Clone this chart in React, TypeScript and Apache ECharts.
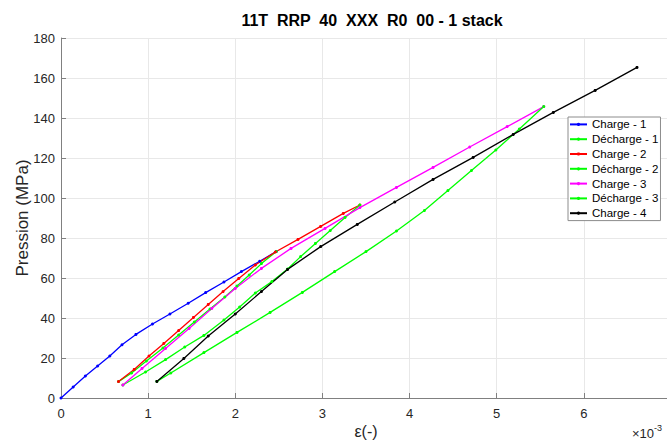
import React, { useEffect, useRef } from "react";
import * as echarts from "echarts";

const TITLE = "11T  RRP  40  XXX  R0  00 - 1 stack";
const X_NAME = "ε(-)";
const Y_NAME = "Pression (MPa)";

const seriesNames = ["Charge - 1", "Décharge - 1", "Charge - 2", "Décharge - 2", "Charge - 3", "Décharge - 3", "Charge - 4"];
const seriesColors = ["#0000ff", "#00ff00", "#ff0000", "#00ff00", "#ff00ff", "#00ff00", "#000000"];

// strain in units of 1e-3
const charge1X = [0, 0.14, 0.28, 0.42, 0.56, 0.70, 0.86, 1.05, 1.25, 1.46, 1.66, 1.87, 2.07, 2.28, 2.47];
const charge1Y = [0, 5.5, 11, 16, 21, 26.6, 31.8, 37, 42, 47.4, 52.7, 58, 63.2, 68.4, 73.2];

const decharge1X = [2.47, 2.30, 2.16, 2.02, 1.88, 1.71, 1.53, 1.35, 1.17, 0.98, 0.81, 0.66];
const decharge1Y = [73.2, 67.2, 61.5, 56, 50.5, 44.5, 38, 31.5, 25, 18.5, 12.5, 8.2];

const charge2X = [0.66, 0.84, 1.01, 1.18, 1.35, 1.52, 1.69, 1.86, 2.04, 2.23, 2.46, 2.72, 2.98, 3.24, 3.43];
const charge2Y = [8.2, 14.3, 21, 27.3, 33.7, 40.3, 46.8, 53.2, 59.8, 66.5, 73, 79.3, 85.8, 92.3, 96.5];

const decharge2X = [3.43, 3.26, 3.09, 2.92, 2.75, 2.60, 2.42, 2.23, 2.05, 1.87, 1.64, 1.42, 1.20, 0.97, 0.71];
const decharge2Y = [96.5, 90.3, 83.7, 77.3, 70.7, 64.5, 58.2, 52.5, 45.5, 39, 31.3, 25.5, 19.2, 13, 6.5];

const charge3X = [0.71, 0.93, 1.20, 1.47, 1.73, 2.00, 2.30, 2.64, 3.03, 3.43, 3.85, 4.27, 4.69, 5.12, 5.54];
const charge3Y = [6.5, 14.8, 24.8, 34.8, 44.8, 54.8, 64.8, 74.8, 84.8, 95.2, 105.3, 115.3, 125.5, 135.7, 145.7];

const decharge3X = [5.54, 5.26, 4.99, 4.71, 4.44, 4.17, 3.85, 3.50, 3.14, 2.77, 2.40, 2.02, 1.64, 1.26, 1.10];
const decharge3Y = [145.7, 134.5, 124, 113.7, 103.7, 93.7, 83.5, 73.2, 63.2, 52.8, 42.8, 32.8, 22.7, 12.5, 8.3];

const charge4X = [1.10, 1.41, 1.69, 2.00, 2.30, 2.60, 2.98, 3.40, 3.83, 4.27, 4.73, 5.19, 5.65, 6.13, 6.61];
const charge4Y = [8.3, 19.8, 31, 42, 53.2, 64.3, 75.7, 86.8, 98, 109.3, 120.3, 131.8, 142.8, 153.8, 165.3];

const allX = [charge1X, decharge1X, charge2X, decharge2X, charge3X, decharge3X, charge4X];
const allY = [charge1Y, decharge1Y, charge2Y, decharge2Y, charge3Y, decharge3Y, charge4Y];

const FONT = "'Liberation Sans', Arial, Helvetica, sans-serif";

export default function App() {
  const ref = useRef<HTMLDivElement>(null);
  useEffect(() => {
    if (!ref.current) return;
    const chart = echarts.init(ref.current, null, { renderer: "svg" });
    const series = seriesNames.map((name, i) => ({
      name,
      type: "line",
      data: allX[i].map((x, j) => [x, allY[i][j]]),
      symbol: "circle",
      symbolSize: 3,
      showSymbol: true,
      lineStyle: { color: seriesColors[i], width: 1.3 },
      itemStyle: { color: seriesColors[i] },
      emphasis: { disabled: true },
      z: 3,
    }));
    chart.setOption({
      animation: false,
      textStyle: { fontFamily: FONT },
      title: {
        text: TITLE,
        left: 367,
        top: 7,
        textAlign: "center",
        textStyle: { fontSize: 16, fontWeight: "bold", color: "#000", fontFamily: FONT },
      },
      grid: { left: 61, right: -4, top: 38, bottom: 44, containLabel: false, outerBoundsMode: "none" },
      xAxis: {
        type: "value",
        min: 0,
        max: 7,
        interval: 1,
        name: X_NAME,
        nameLocation: "middle",
        nameGap: 25,
        nameMoveOverlap: false,
        nameTextStyle: { fontSize: 16, color: "#262626", fontFamily: FONT },
        axisLine: { show: true, onZero: false, lineStyle: { color: "#808080", width: 1 } },
        axisTick: { show: true, inside: true, length: 5, lineStyle: { color: "#808080" } },
        axisLabel: { fontSize: 13, color: "#262626", margin: 9, fontFamily: FONT, showMaxLabel: false },
        splitLine: { show: true, lineStyle: { color: "#e8e8e8", width: 1 } },
      },
      yAxis: {
        type: "value",
        min: 0,
        max: 180,
        interval: 20,
        name: Y_NAME,
        nameLocation: "middle",
        nameGap: 30,
        nameMoveOverlap: false,
        nameTextStyle: { fontSize: 17, color: "#262626", fontFamily: FONT },
        axisLine: { show: true, onZero: false, lineStyle: { color: "#808080", width: 1 } },
        axisTick: { show: true, inside: true, length: 5, lineStyle: { color: "#808080" } },
        axisLabel: { fontSize: 13, color: "#262626", margin: 6, fontFamily: FONT },
        splitLine: { show: true, lineStyle: { color: "#e8e8e8", width: 1 } },
      },
      legend: {
        show: true,
        orient: "vertical",
        left: 568,
        top: 117,
        padding: [0, 2, 0, 1],
        itemGap: 0,
        itemWidth: 17,
        itemHeight: 4,
        backgroundColor: "#ffffff",
        borderColor: "#8c8c8c",
        borderWidth: 1,
        borderRadius: 0,
        textStyle: { fontSize: 11.5, color: "#000", lineHeight: 14.8, fontFamily: FONT },
        data: seriesNames.map((n, i) => ({ name: n, itemStyle: { color: seriesColors[i] } })),
        selectedMode: false,
      },
      graphic: [
        {
          type: "text",
          x: 632,
          y: 423,
          style: {
            text: "{a|×10}{b|-3}",
            fill: "#262626",
            rich: {
              a: { fontSize: 13, fontFamily: FONT, fill: "#262626", verticalAlign: "bottom" },
              b: { fontSize: 9, fontFamily: FONT, fill: "#262626", verticalAlign: "top", padding: [0, 0, 8, 0] },
            },
          },
        },
      ],
      series,
    });
    return () => chart.dispose();
  }, []);
  return (
    <div
      ref={ref}
      style={{ position: "fixed", left: 0, top: 0, width: 667, height: 442, background: "#ffffff" }}
    />
  );
}
